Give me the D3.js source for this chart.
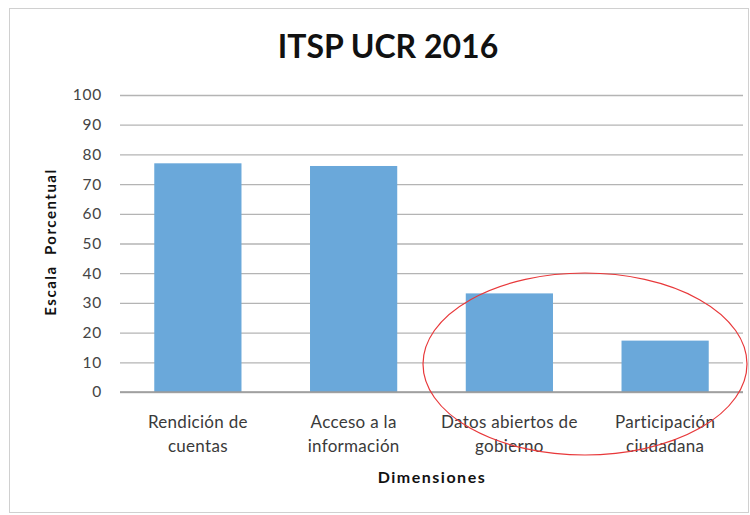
<!DOCTYPE html>
<html><head><meta charset="utf-8">
<script src="https://cdn.jsdelivr.net/npm/d3@7"></script>
<style>body{margin:0;background:#fff}svg{display:block}</style>
</head><body>
<svg id="c" width="750" height="515"></svg>
<script>
const categories = [["Rendición de","cuentas"],["Acceso a la","información"],["Datos abiertos de","gobierno"],["Participación","ciudadana"]];
const values = [77, 76.1, 33.2, 17.3];
const yTicks = [0,10,20,30,40,50,60,70,80,90,100];
const title = "ITSP UCR 2016";
const yTitle = "Escala  Porcentual";
const xTitle = "Dimensiones";

const svg = d3.select("#c");
const font = "Lato, 'Open Sans', sans-serif";
svg.append("rect").attr("x",9.5).attr("y",8.5).attr("width",739).attr("height",504)
  .attr("fill","#fff").attr("stroke","#d0d0d0");

const x = d3.scaleBand().domain(d3.range(categories.length)).range([120,743]).paddingInner(0.44).paddingOuter(0.22);
const y = d3.scaleLinear().domain([0,100]).range([392,95]);

const yAxis = d3.axisLeft(y).tickValues(yTicks).tickSize(-(743-120)).tickPadding(18);
const gy = svg.append("g").attr("transform","translate(120,0)").call(yAxis);
gy.select(".domain").remove();
gy.selectAll(".tick line").attr("stroke","#b4b4b4").attr("stroke-width",1.3);
gy.selectAll(".tick text").attr("font-family",font).attr("font-size",15.5).attr("letter-spacing",0.8).attr("fill","#444");

svg.append("g").selectAll("rect").data(values).join("rect")
  .attr("x",(d,i)=>x(i)).attr("width",x.bandwidth())
  .attr("y",d=>y(d)).attr("height",d=>y(0)-y(d)).attr("fill","#6aa8da");

svg.append("line").attr("x1",120).attr("x2",743).attr("y1",y(0)).attr("y2",y(0)).attr("stroke","#9a9a9a").attr("stroke-width",1.3);

const xl = svg.append("g");
categories.forEach((c,i)=>{
  const cx = x(i)+x.bandwidth()/2;
  const t = xl.append("text").attr("x",cx).attr("y",428)
    .attr("text-anchor","middle").attr("font-family",font).attr("font-size",17).attr("letter-spacing",0.3).attr("fill","#3a3a3a");
  c.forEach((l,j)=>t.append("tspan").attr("x",cx).attr("dy",j?24:0).text(l));
});

svg.append("text").attr("x",388).attr("y",58).attr("text-anchor","middle")
  .attr("font-family",font).attr("font-weight","bold").attr("font-size",32).attr("fill","#111").text(title);
svg.append("text").attr("x",432).attr("y",483).attr("text-anchor","middle")
  .attr("font-family",font).attr("font-weight","bold").attr("font-size",16).attr("letter-spacing",1.5).attr("fill","#111").text(xTitle);
svg.append("text").attr("transform","translate(56,242) rotate(-90)").attr("text-anchor","middle")
  .attr("font-family",font).attr("font-weight","bold").attr("font-size",15).attr("letter-spacing",1.5).attr("fill","#111")
  .attr("xml:space","preserve").text(yTitle);

svg.append("ellipse").attr("cx",585).attr("cy",364).attr("rx",162).attr("ry",91)
  .attr("fill","none").attr("stroke","#e8383a").attr("stroke-width",1.2);
</script>
</body></html>
